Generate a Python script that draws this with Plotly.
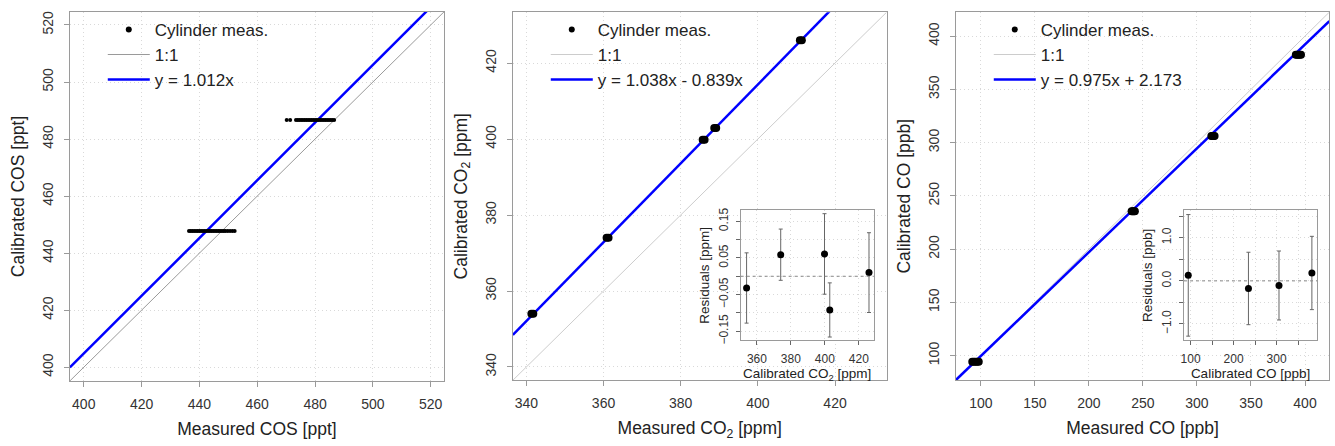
import plotly.graph_objects as go

W, H = 1335, 446

# ---------------- data ----------------
# COS panel: two cylinders, many repeated runs each
cos_cylinder_calibrated = [447.8, 486.7]
cos_measured_runs = [
    [436.4, 437.0, 437.6, 438.2, 438.8, 439.4, 440.0, 440.6, 441.2, 441.8, 442.4,
     443.0, 443.6, 444.2, 444.8, 445.4, 446.0, 446.6, 447.2, 447.8, 448.4, 449.0,
     449.8, 450.6, 451.4, 452.2],
    [470.2, 471.4, 473.4, 474.0, 474.6, 475.2, 475.8, 476.4, 477.0, 477.6, 478.2,
     478.8, 479.4, 480.0, 480.6, 481.2, 481.8, 482.4, 483.0, 483.6, 484.2, 484.8,
     485.4, 486.0, 486.6],
]
cos_slope, cos_intercept = 1.012, 0.0
cos_fit_label = "y = 1.012x"

# CO2 panel
co2_cylinder_calibrated = [354.0, 374.0, 399.8, 402.9, 426.0]
co2_measured_runs = [[341.3, 341.8], [360.8, 361.3], [385.7, 386.2], [388.7, 389.2], [410.9, 411.4]]
co2_slope, co2_intercept = 1.038, -0.839
co2_fit_label = "y = 1.038x - 0.839x"

# CO panel
co_cylinder_calibrated = [94.3, 235.5, 306.2, 382.5]
co_measured_runs = [[92.0, 93.5, 95.0, 96.5, 98.0], [239.5, 240.5, 241.5, 242.5],
                    [313.3, 314.3, 315.3, 316.3], [391.5, 392.7, 393.9, 395.1, 396.3]]
co_slope, co_intercept = 0.975, 2.173
co_fit_label = "y = 0.975x + 2.173"

# residual insets
co2_res_x = [353.9, 374.0, 399.8, 402.9, 426.0]
co2_res = [-0.032, 0.059, 0.061, -0.092, 0.010]
co2_res_err = [0.096, 0.070, 0.110, 0.074, 0.109]

co_res_x = [94.5, 234.5, 305.5, 382.0]
co_res = [0.128, -0.176, -0.107, 0.183]
co_res_err = [1.41, 0.84, 0.80, 0.85]

# axis ticks (labelled ticks, and finer unlabelled ticks for the insets)
cos_ticks = [400, 420, 440, 460, 480, 500, 520]
co2_ticks = [340, 360, 380, 400, 420]
co_ticks = [100, 150, 200, 250, 300, 350, 400]
co2_res_xticks = [360, 380, 400, 420]
co2_res_yticks = [-0.15, -0.05, 0.05, 0.15]
co2_res_yminor = 0.05
co_res_xticks = [100, 200, 300]
co_res_xminor = 50
co_res_yticks = [-1.0, 0.0, 1.0]
co_res_yminor = 0.5

# ---------------- layout helpers ----------------
def dom_x(a, b):
    return [a / W, b / W]

def dom_y(top, bottom):
    return [1 - bottom / H, 1 - top / H]

FONT = "Arial, Liberation Sans, sans-serif"
FRAME = "#9a9a9a"
GRID = "#d9d9d9"
GRID_DASH = "1px,3px"

def main_axis(rng, ticks, title, letter, standoff):
    d = dict(range=rng, tickvals=ticks, showline=True, linecolor=FRAME, linewidth=1,
             mirror=True, ticks="outside", ticklen=5, tickcolor=FRAME,
             showgrid=True, gridcolor=GRID, griddash=GRID_DASH, gridwidth=1,
             zeroline=False, tickfont=dict(size=14, color="#333333"),
             ticklabelstandoff=5,
             title=dict(text=title, font=dict(size=17.5, color="#222222"), standoff=standoff))
    if letter == "y":
        d["tickangle"] = -90
    return d

def inset_axis(rng, ticks, minor_step, title, letter, standoff):
    d = dict(range=rng, tickvals=ticks,
             showline=True, linecolor=FRAME,
             linewidth=1, mirror=True, ticks="outside", ticklen=4, tickcolor="#666666",
             showgrid=True, gridcolor=GRID, griddash=GRID_DASH, gridwidth=1,
             zeroline=False, tickfont=dict(size=12, color="#333333"),
             ticklabelstandoff=3,
             title=dict(text=title, font=dict(size=13.5, color="#222222"), standoff=standoff))
    if minor_step is not None:
        d["minor"] = dict(tick0=0, dtick=minor_step, ticks="outside", ticklen=4,
                          tickcolor="#666666", showgrid=True, gridcolor=GRID, griddash=GRID_DASH)
    if letter == "y":
        d["tickangle"] = -90
    return d

fig = go.Figure()

panels = [
    dict(xa="x", ya="y", legend="legend", rng=[395.2, 524.6],
         cyl=cos_cylinder_calibrated, runs=cos_measured_runs, slope=cos_slope,
         icpt=cos_intercept, label=cos_fit_label, msize=4, oneone="#9a9a9a"),
    dict(xa="x2", ya="y2", legend="legend2", rng=[336.5, 433.4],
         cyl=co2_cylinder_calibrated, runs=co2_measured_runs, slope=co2_slope,
         icpt=co2_intercept, label=co2_fit_label, msize=8, oneone="#cccccc"),
    dict(xa="x3", ya="y3", legend="legend3", rng=[76.8, 422.5],
         cyl=co_cylinder_calibrated, runs=co_measured_runs, slope=co_slope,
         icpt=co_intercept, label=co_fit_label, msize=8, oneone="#cccccc"),
]

for p in panels:
    lo, hi = p["rng"]
    # legend-only marker entry
    fig.add_trace(go.Scatter(x=[None], y=[None], mode="markers", name="Cylinder meas.",
                             marker=dict(color="black", size=6), xaxis=p["xa"], yaxis=p["ya"],
                             legend=p["legend"], showlegend=True, hoverinfo="skip"))
    fig.add_trace(go.Scatter(x=[lo, hi], y=[lo, hi], mode="lines", name="1:1",
                             line=dict(color=p["oneone"], width=1), xaxis=p["xa"], yaxis=p["ya"],
                             legend=p["legend"]))
    fig.add_trace(go.Scatter(x=[lo, hi], y=[p["slope"] * lo + p["icpt"], p["slope"] * hi + p["icpt"]],
                             mode="lines", name=p["label"], line=dict(color="#0000ff", width=2.5),
                             xaxis=p["xa"], yaxis=p["ya"], legend=p["legend"]))
    xs, ys = [], []
    for cal, runs in zip(p["cyl"], p["runs"]):
        for m in runs:
            xs.append(m)
            ys.append(cal)
    fig.add_trace(go.Scatter(x=xs, y=ys, mode="markers", marker=dict(color="black", size=p["msize"]),
                             xaxis=p["xa"], yaxis=p["ya"], showlegend=False, name="Cylinder meas."))

# insets
fig.add_trace(go.Scatter(x=co2_res_x, y=co2_res, mode="markers",
                         marker=dict(color="black", size=7),
                         error_y=dict(type="data", array=co2_res_err, color="#666666",
                                      thickness=1, width=2),
                         xaxis="x4", yaxis="y4", showlegend=False))
fig.add_trace(go.Scatter(x=co_res_x, y=co_res, mode="markers",
                         marker=dict(color="black", size=7),
                         error_y=dict(type="data", array=co_res_err, color="#666666",
                                      thickness=1, width=2),
                         xaxis="x5", yaxis="y5", showlegend=False))

for xa, ya in [("x4", "y4"), ("x5", "y5")]:
    fig.add_shape(type="line", xref=f"{xa} domain", yref=ya, x0=0, x1=1, y0=0, y1=0,
                  line=dict(color="#888888", width=1, dash="dot"), layer="above")

legend_common = dict(bgcolor="rgba(0,0,0,0)", font=dict(size=17, color="#222222", family=FONT),
                     xanchor="left", yanchor="top", itemwidth=42, tracegroupgap=0,
                     itemclick=False, itemdoubleclick=False)

fig.update_layout(
    width=W, height=H, autosize=False,
    margin=dict(l=0, r=0, t=0, b=0),
    paper_bgcolor="white", plot_bgcolor="white",
    font=dict(family=FONT, color="#222222"),
    xaxis=dict(domain=dom_x(67, 442), anchor="y",
               **main_axis([395.2, 524.6], cos_ticks, "Measured COS [ppt]", "x", 11)),
    yaxis=dict(domain=dom_y(9, 384), anchor="x",
               **main_axis([395.2, 524.6], cos_ticks, "Calibrated COS [ppt]", "y", 11)),
    xaxis2=dict(domain=dom_x(511, 885.7), anchor="y2",
                **main_axis([336.5, 433.4], co2_ticks, "Measured CO<sub>2</sub> [ppm]", "x", 11)),
    yaxis2=dict(domain=dom_y(9.3, 383.3), anchor="x2",
                **main_axis([336.5, 433.4], co2_ticks, "Calibrated CO<sub>2</sub> [ppm]", "y", 11)),
    xaxis3=dict(domain=dom_x(955, 1329.3), anchor="y3",
                **main_axis([76.8, 422.5], co_ticks, "Measured CO [ppb]", "x", 11)),
    yaxis3=dict(domain=dom_y(9.3, 383.3), anchor="x3",
                **main_axis([76.8, 422.5], co_ticks, "Calibrated CO [ppb]", "y", 11)),
    xaxis4=dict(domain=dom_x(739.3, 872.7), anchor="y4",
                **inset_axis([350.4, 428.8], co2_res_xticks, None,
                             "Calibrated CO<sub>2</sub> [ppm]", "x", 2)),
    yaxis4=dict(domain=dom_y(210.7, 342.7), anchor="x4",
                **inset_axis([-0.175, 0.18], co2_res_yticks, co2_res_yminor,
                             "Residuals [ppm]", "y", 4)),
    xaxis5=dict(domain=dom_x(1183.7, 1317), anchor="y5",
                **inset_axis([84.7, 394.0], co_res_xticks, co_res_xminor,
                             "Calibrated CO [ppb]", "x", 2)),
    yaxis5=dict(domain=dom_y(210.7, 342.7), anchor="x5",
                **inset_axis([-1.379, 1.635], co_res_yticks, co_res_yminor,
                             "Residuals [ppb]", "y", 4)),
    legend=dict(x=100 / W, y=1 - 9 / H, **legend_common),
    legend2=dict(x=544 / W, y=1 - 9 / H, **legend_common),
    legend3=dict(x=988 / W, y=1 - 9 / H, **legend_common),
)

fig.update_yaxes(tickformat=".2f", selector=dict(anchor="x4"))
fig.update_yaxes(tickformat=".1f", selector=dict(anchor="x5"))

fig.write_html("out.html")
